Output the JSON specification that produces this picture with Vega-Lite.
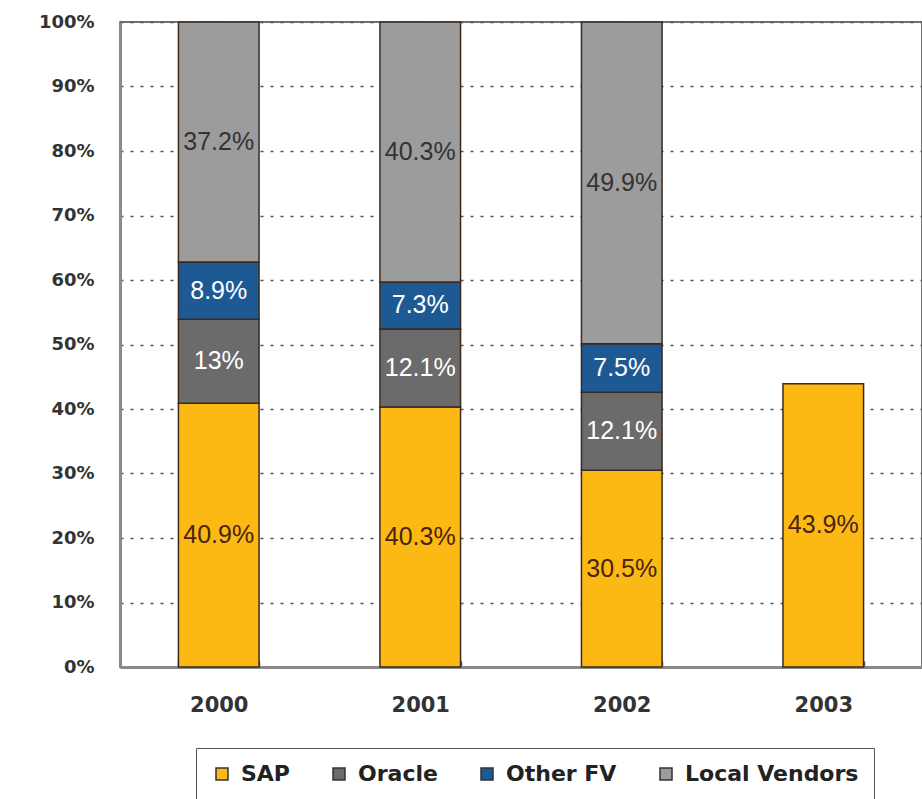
{
  "$schema": "https://vega.github.io/schema/vega-lite/v6.json",
  "autosize": "none",
  "padding": {"left": 120, "top": 22, "right": 0, "bottom": 132},
  "width": 802,
  "height": 645,
  "background": "#ffffff",
  "config": {
    "view": {"stroke": "#444444", "strokeWidth": 1.5},
    "axis": {"labelFont": "DejaVu Sans", "labelFontWeight": "bold", "labelColor": "#333333", "title": null}
  },
  "data": {
    "values": [
      {"year": "2000", "vendor": "SAP", "value": 40.9, "label": "40.9%"},
      {"year": "2000", "vendor": "Oracle", "value": 13, "label": "13%"},
      {"year": "2000", "vendor": "Other FV", "value": 8.9, "label": "8.9%"},
      {"year": "2000", "vendor": "Local Vendors", "value": 37.2, "label": "37.2%"},
      {"year": "2001", "vendor": "SAP", "value": 40.3, "label": "40.3%"},
      {"year": "2001", "vendor": "Oracle", "value": 12.1, "label": "12.1%"},
      {"year": "2001", "vendor": "Other FV", "value": 7.3, "label": "7.3%"},
      {"year": "2001", "vendor": "Local Vendors", "value": 40.3, "label": "40.3%"},
      {"year": "2002", "vendor": "SAP", "value": 30.5, "label": "30.5%"},
      {"year": "2002", "vendor": "Oracle", "value": 12.1, "label": "12.1%"},
      {"year": "2002", "vendor": "Other FV", "value": 7.5, "label": "7.5%"},
      {"year": "2002", "vendor": "Local Vendors", "value": 49.9, "label": "49.9%"},
      {"year": "2003", "vendor": "SAP", "value": 43.9, "label": "43.9%"}
    ]
  },
  "transform": [
    {"calculate": "indexof(['SAP','Oracle','Other FV','Local Vendors'], datum.vendor)", "as": "ord"},
    {"stack": "value", "groupby": ["year"], "sort": [{"field": "ord", "order": "ascending"}], "as": ["y0", "y1"]},
    {"calculate": "(datum.y0 + datum.y1) / 2", "as": "ymid"}
  ],
  "encoding": {
    "x": {
      "field": "year",
      "type": "nominal",
      "scale": {"paddingInner": 0.6, "paddingOuter": 0.29},
      "axis": {
        "labelAngle": 0,
        "labelFontSize": 21,
        "labelPadding": 33,
        "domainColor": "#8a8a8a",
        "domainWidth": 3,
        "tickBand": "extent",
        "tickSize": -6,
        "tickColor": "#555555",
        "tickWidth": 1.5
      }
    }
  },
  "layer": [
    {
      "mark": {"type": "bar", "stroke": "#3a2a1e", "strokeWidth": 1.5},
      "encoding": {
        "y": {
          "field": "y1",
          "type": "quantitative",
          "scale": {"domain": [0, 100], "nice": false},
          "axis": {
            "values": [0, 10, 20, 30, 40, 50, 60, 70, 80, 90, 100],
            "labelExpr": "datum.value + '%'",
            "labelFontSize": 18,
            "labelPadding": 26,
            "ticks": false,
            "domainColor": "#8a8a8a",
            "domainWidth": 3,
            "grid": true,
            "gridColor": "#555555",
            "gridDash": [3, 7],
            "gridWidth": 1.5
          }
        },
        "y2": {"field": "y0"},
        "color": {
          "field": "vendor",
          "type": "nominal",
          "scale": {
            "domain": ["SAP", "Oracle", "Other FV", "Local Vendors"],
            "range": ["#FDB913", "#6b6b6b", "#1d5a94", "#9c9c9c"]
          },
          "legend": {
            "title": null,
            "orient": "none",
            "legendX": 76,
            "legendY": 726,
            "direction": "horizontal",
            "symbolType": "square",
            "symbolSize": 144,
            "symbolStrokeColor": "#333333",
            "symbolStrokeWidth": 1.5,
            "symbolOffset": 0,
            "labelFont": "DejaVu Sans",
            "labelFontWeight": "bold",
            "labelFontSize": 22,
            "labelColor": "#222222",
            "labelOffset": 8,
            "labelLimit": 400,
            "columnPadding": 38,
            "padding": 15,
            "strokeColor": "#555555",
            "fillColor": "#ffffff"
          }
        }
      }
    },
    {
      "mark": {"type": "text", "font": "Liberation Sans", "fontSize": 25, "baseline": "middle", "align": "center"},
      "encoding": {
        "y": {"field": "ymid", "type": "quantitative"},
        "text": {"field": "label"},
        "color": {
          "field": "vendor",
          "type": "nominal",
          "scale": {
            "domain": ["SAP", "Oracle", "Other FV", "Local Vendors"],
            "range": ["#4a2410", "#ffffff", "#ffffff", "#333333"]
          },
          "legend": null
        }
      }
    }
  ],
  "resolve": {"scale": {"color": "independent"}}
}
